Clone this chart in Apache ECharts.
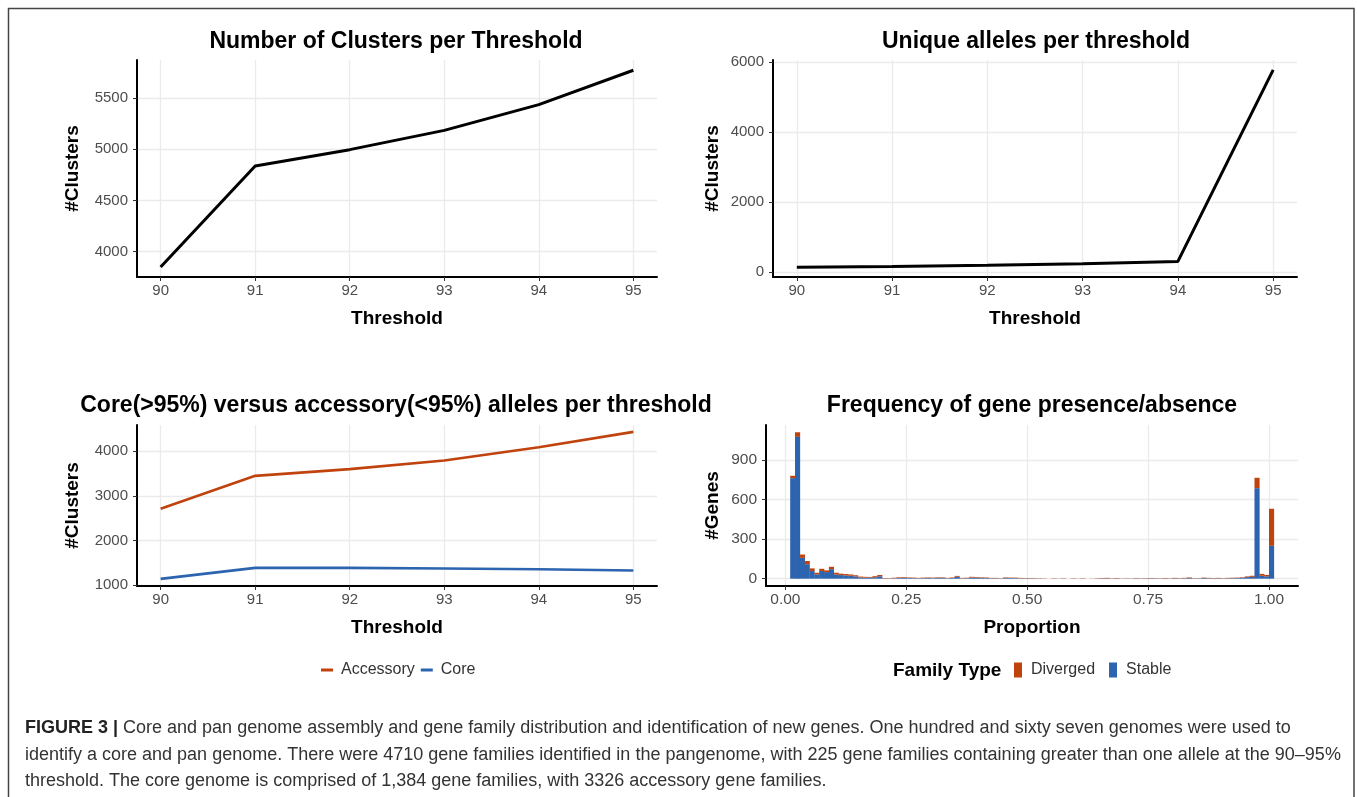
<!DOCTYPE html>
<html><head><meta charset="utf-8">
<script src="https://cdn.jsdelivr.net/npm/echarts@6/dist/echarts.min.js"></script>
<style>html,body{margin:0;padding:0;background:#fff}#c{width:1357px;height:797px}</style>
</head><body><div id="c"></div>
<script>
// ---------- data ----------
const thresholds = [90, 91, 92, 93, 94, 95];
const clustersPerThreshold = [3849, 4835, 4995, 5183, 5434, 5770];
const uniqueAlleles = [135, 155, 190, 235, 300, 5780];
const accessory = [2713, 3450, 3601, 3795, 4090, 4434];
const core = [1143, 1390, 1390, 1375, 1360, 1330];

const thresholdTicks = [90, 91, 92, 93, 94, 95];
const clusterTicksA = [4000, 4500, 5000, 5500];
const clusterTicksB = [0, 2000, 4000, 6000];
const clusterTicksC = [1000, 2000, 3000, 4000];
const geneTicks = [0, 300, 600, 900];
const proportionTicks = [0, 0.25, 0.5, 0.75, 1];

// histogram: 100 bins of width 0.01 starting at 0.01
const binStart = 0.01;
const binWidth = 0.01;
const stable = [
  762, 1075, 158, 110, 58, 33, 58, 50, 72, 32,
  27, 25, 22, 17, 9, 8, 7, 11, 18, 2,
  1, 3, 5, 7, 5, 4, 3, 4, 5, 4,
  6, 6, 3, 5, 15, 3, 4, 9, 7, 6,
  5, 3, 3, 2, 5, 5, 4, 3, 3, 2,
  2, 1, 0, 0, 1, 0, 1, 0, 1, 0,
  1, 0, 0, 1, 2, 3, 1, 2, 1, 1,
  1, 2, 1, 2, 3, 2, 1, 2, 1, 3,
  2, 3, 5, 2, 2, 5, 3, 2, 3, 2,
  3, 4, 5, 7, 12, 14, 686, 22, 18, 249
];
const diverged = [
  18, 35, 25, 24, 20, 12, 17, 13, 18, 13,
  11, 10, 10, 9, 7, 6, 6, 8, 10, 3,
  3, 4, 5, 5, 4, 4, 3, 4, 4, 4,
  4, 4, 3, 4, 6, 3, 3, 5, 5, 4,
  4, 3, 3, 2, 4, 3, 4, 3, 2, 3,
  2, 2, 2, 0, 2, 1, 2, 0, 2, 1,
  2, 0, 1, 2, 3, 3, 2, 3, 1, 2,
  1, 2, 2, 2, 2, 2, 2, 3, 2, 3,
  2, 3, 4, 2, 2, 3, 3, 3, 3, 2,
  3, 3, 3, 4, 5, 8, 79, 14, 10, 281
];

const captionLines = [
  '{b|FIGURE 3 |} Core and pan genome assembly and gene family distribution and identification of new genes. One hundred and sixty seven genomes were used to',
  'identify a core and pan genome. There were 4710 gene families identified in the pangenome, with 225 gene families containing greater than one allele at the 90\u201395%',
  'threshold. The core genome is comprised of 1,384 gene families, with 3326 accessory gene families.'
];

// ---------- styling helpers ----------
const FF = '"Liberation Sans", Arial, Helvetica, sans-serif';
const RED = '#C0430E';
const BLUE = '#2C64AF';
const nameStyle = {fontFamily: FF, fontWeight: 'bold', fontSize: 19, color: '#000'};

function xAxis(gridIndex, min, max, ticks, fmt, name, fs) {
  return {
    type: 'value', gridIndex, min, max, name, nameLocation: 'middle', nameGap: 32,
    nameTextStyle: nameStyle,
    axisLine: {show: true, onZero: false, lineStyle: {color: '#000', width: 2}},
    axisTick: {show: true, customValues: ticks, length: 4, lineStyle: {color: '#333', width: 1}},
    axisLabel: {customValues: ticks, formatter: fmt, color: '#4d4d4d', fontSize: fs, fontFamily: FF, margin: 6},
    splitLine: {show: true, lineStyle: {color: '#ebebeb', width: 1.3}}
  };
}
function yAxis(gridIndex, min, max, ticks, name, gap, fs) {
  return {
    type: 'value', gridIndex, min, max, name, nameLocation: 'middle', nameGap: gap,
    nameTextStyle: nameStyle,
    axisLine: {show: true, onZero: false, lineStyle: {color: '#000', width: 2}},
    axisTick: {show: true, customValues: ticks, length: 4, lineStyle: {color: '#333', width: 1}},
    axisLabel: {customValues: ticks, formatter: v => String(v), color: '#4d4d4d', fontSize: fs, fontFamily: FF, margin: 9},
    splitLine: {show: true, lineStyle: {color: '#ebebeb', width: 1.3}}
  };
}
const pair = (xs, ys) => xs.map((x, i) => [x, ys[i]]);
const fmtInt = v => String(v);
const fmt2 = v => v.toFixed(2);

const stableData = stable.map((v, i) => [binStart + i * binWidth, binStart + (i + 1) * binWidth, 0, v]);
const divergedData = diverged.map((v, i) => [binStart + i * binWidth, binStart + (i + 1) * binWidth, stable[i], stable[i] + v]);

function renderBin(params, api) {
  const p0 = api.coord([api.value(0), api.value(2)]);
  const p1 = api.coord([api.value(1), api.value(3)]);
  return {
    type: 'rect',
    shape: {x: p0[0], y: p1[1], width: p1[0] - p0[0] + 0.3, height: p0[1] - p1[1]},
    style: {fill: api.visual('color')}
  };
}

const titleBase = {textAlign: 'center', padding: 0, textStyle: {fontFamily: FF, fontWeight: 'bold', fontSize: 23, color: '#000'}};
const legendText = {fontFamily: FF, fontSize: 16, color: '#333'};
const capSize = 18;

const option = {
  animation: false,
  backgroundColor: '#fff',
  title: [
    Object.assign({text: 'Number of Clusters per Threshold', left: 396, top: 30}, titleBase),
    Object.assign({text: 'Unique alleles per threshold', left: 1036, top: 30}, titleBase),
    Object.assign({text: 'Core(>95%) versus accessory(<95%) alleles per threshold', left: 396, top: 394}, titleBase),
    Object.assign({text: 'Frequency of gene presence/absence', left: 1032, top: 394}, titleBase),
    {text: 'Family Type', left: 893, top: 661, padding: 0, textStyle: {fontFamily: FF, fontWeight: 'bold', fontSize: 19, color: '#000'}}
  ],
  grid: [
    {left: 137, top: 60, width: 520, height: 217, outerBoundsMode: 'none'},
    {left: 773, top: 60, width: 524, height: 217, outerBoundsMode: 'none'},
    {left: 137, top: 425, width: 520, height: 161, outerBoundsMode: 'none'},
    {left: 766, top: 425, width: 532, height: 161, outerBoundsMode: 'none'}
  ],
  xAxis: [
    xAxis(0, 89.75, 95.25, thresholdTicks, fmtInt, 'Threshold', 15),
    xAxis(1, 89.75, 95.25, thresholdTicks, fmtInt, 'Threshold', 15),
    xAxis(2, 89.75, 95.25, thresholdTicks, fmtInt, 'Threshold', 15),
    xAxis(3, -0.04, 1.06, proportionTicks, fmt2, 'Proportion', 15.5)
  ],
  yAxis: [
    yAxis(0, 3752, 5870, clusterTicksA, '#Clusters', 55, 15),
    yAxis(1, -147, 6062, clusterTicksB, '#Clusters', 51, 15),
    yAxis(2, 984, 4588, clusterTicksC, '#Clusters', 55, 15),
    yAxis(3, -55.5, 1165, geneTicks, '#Genes', 44, 15.5)
  ],
  legend: [
    {data: ['Accessory', 'Core'], left: 316, top: 657, icon: 'rect', itemWidth: 12, itemHeight: 3, itemGap: 6,
     selectedMode: false, textStyle: Object.assign({padding: [0, 0, 0, 3]}, legendText)},
    {data: ['Diverged', 'Stable'], left: 1009, top: 657, icon: 'rect', itemWidth: 8, itemHeight: 15, itemGap: 14,
     selectedMode: false, textStyle: Object.assign({padding: [0, 0, 0, 4]}, legendText)}
  ],
  series: [
    {type: 'line', name: 'Clusters', xAxisIndex: 0, yAxisIndex: 0, data: pair(thresholds, clustersPerThreshold),
     symbol: 'none', lineStyle: {color: '#000', width: 3}, itemStyle: {color: '#000'}},
    {type: 'line', name: 'Unique alleles', xAxisIndex: 1, yAxisIndex: 1, data: pair(thresholds, uniqueAlleles),
     symbol: 'none', lineStyle: {color: '#000', width: 3}, itemStyle: {color: '#000'}},
    {type: 'line', name: 'Accessory', xAxisIndex: 2, yAxisIndex: 2, data: pair(thresholds, accessory),
     symbol: 'none', lineStyle: {color: RED, width: 2.6}, itemStyle: {color: RED}},
    {type: 'line', name: 'Core', xAxisIndex: 2, yAxisIndex: 2, data: pair(thresholds, core),
     symbol: 'none', lineStyle: {color: BLUE, width: 2.6}, itemStyle: {color: BLUE}},
    {type: 'custom', name: 'Stable', xAxisIndex: 3, yAxisIndex: 3, data: stableData, renderItem: renderBin,
     encode: {x: [0, 1], y: [2, 3]}, itemStyle: {color: BLUE}},
    {type: 'custom', name: 'Diverged', xAxisIndex: 3, yAxisIndex: 3, data: divergedData, renderItem: renderBin,
     encode: {x: [0, 1], y: [2, 3]}, itemStyle: {color: RED}}
  ],
  graphic: [
    {type: 'rect', silent: true, shape: {x: 8.5, y: 8.5, width: 1345.5, height: 800},
     style: {fill: null, stroke: '#444', lineWidth: 1.5}},
    {type: 'text', silent: true, x: 25, y: 728, style: {text: captionLines[0], fontFamily: FF, fontSize: capSize, fill: '#333', verticalAlign: 'middle',
      rich: {b: {fontFamily: FF, fontSize: capSize, fontWeight: 'bold', fill: '#222'}}}},
    {type: 'text', silent: true, x: 25, y: 755, style: {text: captionLines[1], fontFamily: FF, fontSize: capSize, fill: '#333', verticalAlign: 'middle'}},
    {type: 'text', silent: true, x: 25, y: 781, style: {text: captionLines[2], fontFamily: FF, fontSize: capSize, fill: '#333', verticalAlign: 'middle'}}
  ]
};

const chart = echarts.init(document.getElementById('c'), null, {renderer: 'canvas'});
chart.setOption(option);
</script>
</body></html>
